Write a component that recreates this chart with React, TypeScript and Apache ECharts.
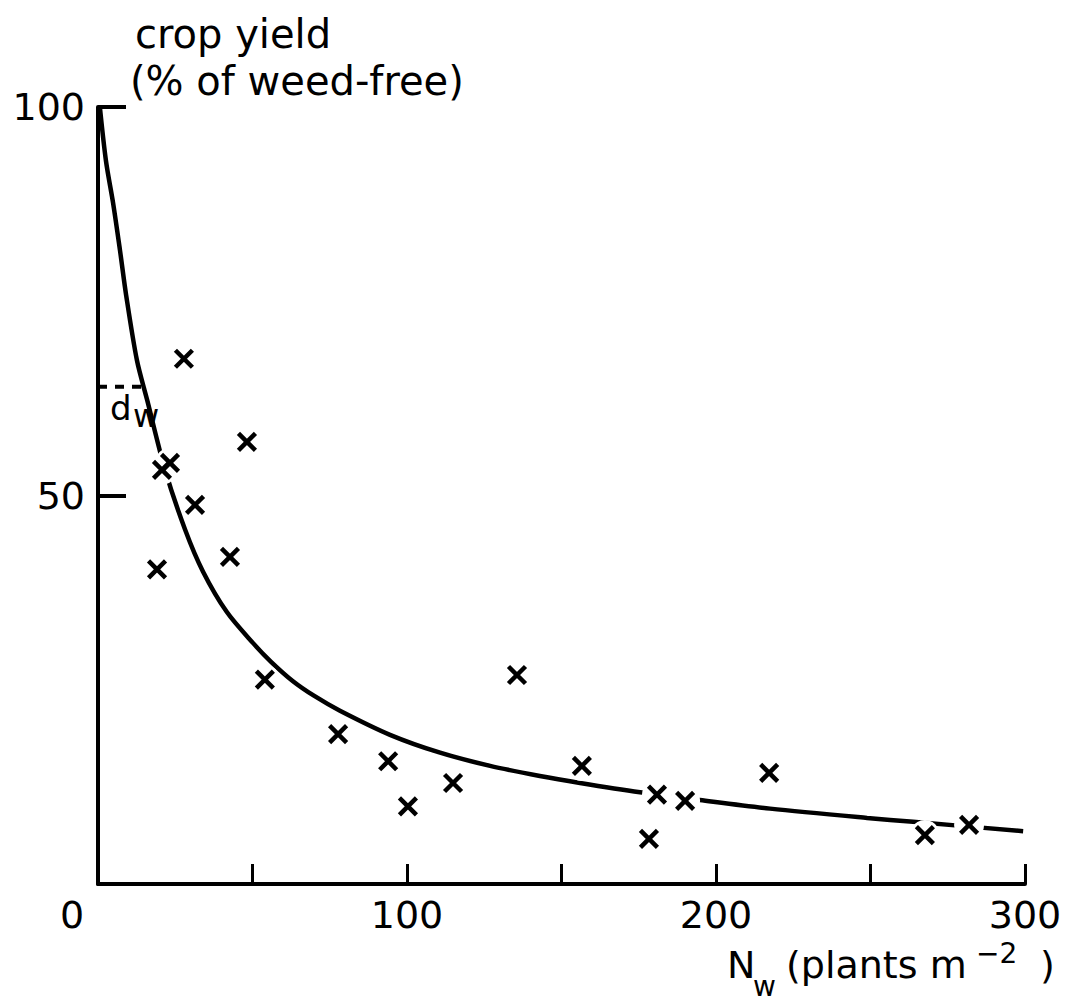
import React, { useEffect, useRef } from "react";
import * as echarts from "echarts";

// Observed weed density N_w (plants m^-2) and crop yield (% of weed-free)
const weedDensity = [27.8, 48.2, 23.3, 20.7, 31.4, 19.1, 42.7, 54.0, 77.7, 93.9, 100.3, 114.9, 135.6, 156.6, 178.3, 180.9, 190.0, 217.2, 267.6, 281.9];
const cropYield = [67.6, 56.9, 54.2, 53.3, 48.8, 40.5, 42.1, 26.3, 19.3, 15.8, 10.0, 13.0, 26.9, 15.2, 5.8, 11.5, 10.7, 14.3, 6.3, 7.6];

// Fitted curve
const curveN = [0.6, 2.6, 4.9, 7.1, 9.1, 12.6, 15.9, 21.7, 28.2, 34.0, 41.7, 50.2, 56.0, 63.1, 70.0, 78.3, 94.5, 110.7, 126.9, 143.0, 156.0, 175.4, 194.8, 217.5, 248.9, 263.8, 299.4];
const curveY = [100, 93.0, 87.6, 81.6, 75.8, 67.4, 62.3, 53.3, 45.6, 40.2, 35.0, 31.0, 28.6, 26.1, 24.2, 22.3, 19.2, 16.9, 15.2, 13.9, 13.0, 11.8, 10.8, 9.7, 8.5, 8.0, 6.8];

// d_w marker (dashed horizontal from the axis to the curve)
const dwN = [0, 14.6];
const dwY = [64, 64];

// Axis ticks
const xMin = 0, xMax = 300, xInterval = 50;
const xLabelValues = [0, 100, 200, 300];
const yMin = 0, yMax = 100, yInterval = 50;
const yLabelValues = [50, 100];

const FONT = "DejaVu Sans";

export default function App() {
  const ref = useRef<HTMLDivElement>(null);

  useEffect(() => {
    document.body.style.margin = "0";
    if (!ref.current) return;
    const chart = echarts.init(ref.current, null, { renderer: "svg" });

    const points = weedDensity.map((n, i) => [n, cropYield[i]]);
    const curve = curveN.map((n, i) => [n, curveY[i]]);
    const dw = dwN.map((n, i) => [n, dwY[i]]);

    const option: any = {
      animation: false,
      backgroundColor: "#ffffff",
      grid: { left: 98, right: 53, top: 107, bottom: 121, containLabel: false },
      xAxis: {
        type: "value",
        min: xMin,
        max: xMax,
        interval: xInterval,
        splitLine: { show: false },
        axisLine: { show: true, onZero: false, lineStyle: { color: "#000", width: 4 } },
        axisTick: { show: true, inside: true, length: 20, lineStyle: { color: "#000", width: 3 } },
        axisLabel: {
          margin: 12,
          color: "#000",
          fontFamily: FONT,
          fontSize: 38,
          lineHeight: 38,
          formatter: (v: number) =>
            xLabelValues.includes(v) ? (v === 0 ? "{z|0}" : String(v)) : "",
          rich: {
            z: { fontFamily: FONT, fontSize: 38, lineHeight: 38, color: "#000", padding: [0, 52, 0, 0] },
          },
        },
      },
      yAxis: {
        type: "value",
        min: yMin,
        max: yMax,
        interval: yInterval,
        splitLine: { show: false },
        axisLine: { show: true, onZero: false, lineStyle: { color: "#000", width: 4 } },
        axisTick: { show: true, inside: true, length: 28, lineStyle: { color: "#000", width: 4 } },
        axisLabel: {
          margin: 13,
          color: "#000",
          fontFamily: FONT,
          fontSize: 38,
          formatter: (v: number) => (yLabelValues.includes(v) ? String(v) : ""),
        },
      },
      series: [
        {
          type: "line",
          data: curve,
          smooth: 0.3,
          showSymbol: false,
          lineStyle: { color: "#000", width: 4.5 },
          z: 2,
        },
        {
          type: "line",
          data: dw,
          showSymbol: false,
          lineStyle: { color: "#000", width: 4, type: [9, 8] },
          z: 2,
        },
        {
          type: "scatter",
          data: points,
          symbol: "circle",
          symbolSize: 30,
          itemStyle: { color: "#ffffff", opacity: 1 },
          z: 5,
          silent: true,
        },
        {
          type: "scatter",
          data: points,
          symbol: "path://M0 0L20 20M20 0L0 20",
          symbolSize: 17,
          itemStyle: { color: "rgba(0,0,0,0)", borderColor: "#000", borderWidth: 4.5, opacity: 1 },
          z: 6,
        },
      ],
      graphic: [
        { type: "text", left: 135, top: 14, style: { text: "crop yield", font: `40px "${FONT}"`, fill: "#000" } },
        { type: "text", left: 130, top: 61, style: { text: "(% of weed-free)", font: `40px "${FONT}"`, fill: "#000" } },
        { type: "text", left: 110, top: 391, style: { text: "d", font: `34px "${FONT}"`, fill: "#000" } },
        { type: "text", left: 133, top: 400, style: { text: "w", font: `32px "${FONT}"`, fill: "#000" } },
        { type: "text", left: 727, top: 946, style: { text: "N", font: `38px "${FONT}"`, fill: "#000" } },
        { type: "text", left: 753, top: 972, style: { text: "w", font: `28px "${FONT}"`, fill: "#000" } },
        { type: "text", left: 786, top: 946, style: { text: "(plants m", font: `38px "${FONT}"`, fill: "#000" } },
        { type: "text", left: 976, top: 939, style: { text: "−2", font: `28px "${FONT}"`, fill: "#000" } },
        { type: "text", left: 1040, top: 946, style: { text: ")", font: `38px "${FONT}"`, fill: "#000" } },
      ],
    };

    chart.setOption(option);
    return () => chart.dispose();
  }, []);

  return <div ref={ref} style={{ width: 1078, height: 1005 }} />;
}
